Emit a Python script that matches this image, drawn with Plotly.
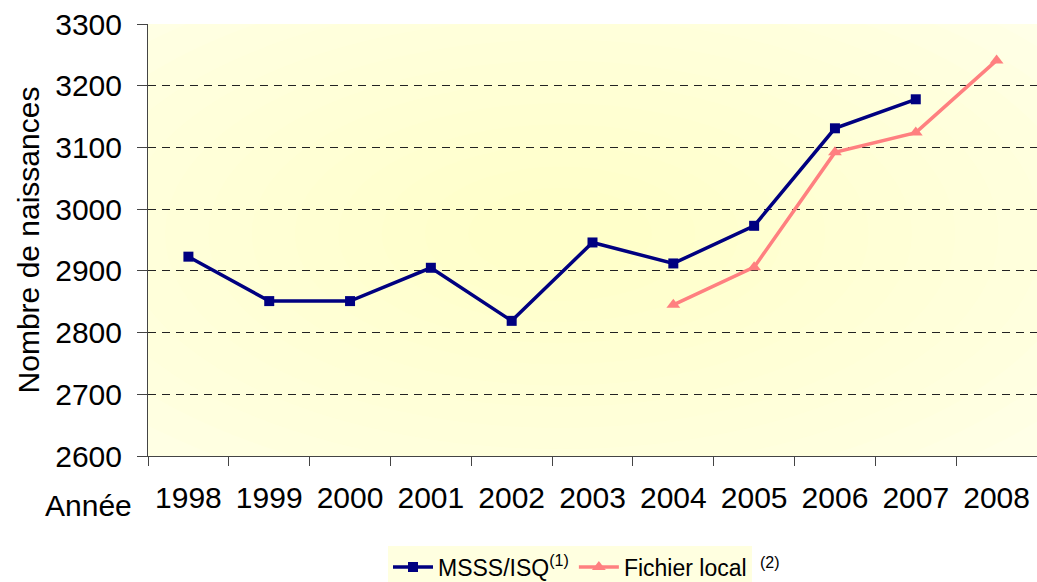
import plotly.graph_objects as go

years = ["1998", "1999", "2000", "2001", "2002", "2003", "2004", "2005", "2006", "2007", "2008"]
msss_years = ["1998", "1999", "2000", "2001", "2002", "2003", "2004", "2005", "2006", "2007"]
msss_values = [2923, 2851, 2851, 2905, 2819, 2946, 2912, 2973, 3131, 3178]
local_years = ["2004", "2005", "2006", "2007", "2008"]
local_values = [2845, 2906, 3092, 3124, 3241]
y_ticks = [2600, 2700, 2800, 2900, 3000, 3100, 3200, 3300]

FONT = "Liberation Sans, Arial, sans-serif"

fig = go.Figure()
fig.add_trace(go.Scatter(
    x=msss_years, y=msss_values, mode="lines+markers",
    name="MSSS/ISQ<sup>(1)</sup>",
    line=dict(color="#000080", width=3.5),
    marker=dict(symbol="square", size=10, color="#000080"),
))
fig.add_trace(go.Scatter(
    x=local_years, y=local_values, mode="lines+markers",
    name="Fichier local",
    line=dict(color="#ff8080", width=3.5),
    marker=dict(symbol="triangle-up", size=12, color="#ff8080"),
))

# radial-ish pale yellow gradient background (drawn in data coords so it is clipped)
shapes = []
n = 14
cx, cy = 4.6, 2960
for i in range(n):
    f = i / n
    rx = 7.5 * (1 - f) + 0.6
    ry = 480 * (1 - f) + 40
    shapes.append(dict(
        type="circle", xref="x", yref="y",
        x0=cx - rx, x1=cx + rx, y0=cy - ry, y1=cy + ry,
        fillcolor="rgba(255,255,150,0.033)", line=dict(width=0), layer="below",
    ))

fig.update_layout(
    width=1037, height=582,
    margin=dict(l=148, r=0, t=24, b=126, autoexpand=False),
    paper_bgcolor="white",
    plot_bgcolor="#ffffea",
    font=dict(family=FONT, size=30, color="black"),
    showlegend=True,
    shapes=shapes,
    legend=dict(
        orientation="h", xref="container", yref="container",
        x=570 / 1037, xanchor="center", y=1 - 567 / 582, yanchor="middle",
        bgcolor="#ffffe0", font=dict(size=23, family=FONT),
        itemwidth=40, tracegroupgap=0, borderwidth=0,
    ),
    annotations=[
        dict(text="Année", xref="paper", yref="paper", x=(134 - 148) / 889, y=(456 - 505) / 432,
             xanchor="right", yanchor="middle", showarrow=False,
             font=dict(size=30, family=FONT)),
        dict(text="(2)", xref="paper", yref="paper", x=(770 - 148) / 889, y=(456 - 562) / 432,
             xanchor="center", yanchor="middle", showarrow=False,
             font=dict(size=16, family=FONT)),
    ],
)
fig.update_xaxes(
    type="category", categoryorder="array", categoryarray=years,
    range=[-0.5, 10.5], showgrid=False, zeroline=False,
    showline=True, linecolor="#444444", linewidth=1,
    ticks="outside", tickson="boundaries", ticklen=9, tickcolor="#444444",
    tickfont=dict(size=30, family=FONT), ticklabelstandoff=15,
)
fig.update_yaxes(
    range=[2600, 3300], tickvals=y_ticks, showgrid=True,
    gridcolor="#222222", griddash="8px,6px", gridwidth=1,
    zeroline=False, showline=True, linecolor="#444444", linewidth=1,
    ticks="outside", ticklen=10, tickcolor="#444444",
    tickfont=dict(size=30, family=FONT), ticklabelstandoff=9,
    title=dict(text="Nombre de naissances", font=dict(size=30, family=FONT), standoff=6),
)
fig.write_html("out.html", config={"displayModeBar": False},
               post_script="document.body.style.margin='0';")
